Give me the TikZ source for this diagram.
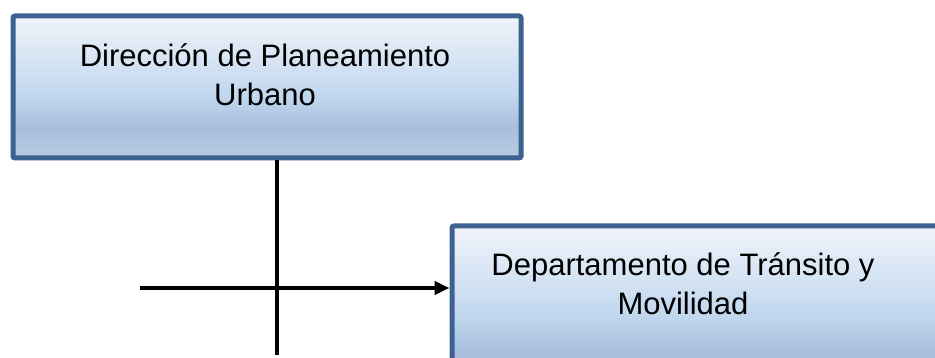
\documentclass[tikz,border=0pt]{standalone}
\usepackage{fontspec}
\setmainfont{Liberation Sans}
\usetikzlibrary{positioning,arrows.meta,calc}
\definecolor{bordeazul}{HTML}{3D6190}
\definecolor{azul1}{HTML}{F0F4FA}
\definecolor{azul2}{HTML}{BFD6EE}
\definecolor{azul3}{HTML}{A9BEDC}
\definecolor{azul4}{HTML}{B9CCE4}
\pgfdeclareverticalshading{cajaazul}{100bp}{color(0bp)=(azul4); color(25bp)=(azul4);
  color(36bp)=(azul3); color(46bp)=(azul2); color(75bp)=(azul1); color(100bp)=(azul1)}
\tikzset{
  caja/.style   = {draw=bordeazul, line width=5pt, shading=cajaazul, rounded corners=2pt,
                   inner sep=0pt, anchor=north west},
  texto/.style  = {align=center, font=\fontsize{31}{39}\selectfont, inner sep=0pt},
  linea/.style  = {line width=4pt, black},
  flecha/.style = {linea, -{Triangle[length=15pt,width=13pt]}}
}
\begin{document}
\begin{tikzpicture}[x=1pt, y=-1pt]
        \useasboundingbox (0,0) rectangle (935,358);
        \clip (0,0) rectangle (935,358);
        \node[caja, minimum width=508pt, minimum height=142pt] (dpu) at (10.5,13.5) {};
        \node[texto] (dputxt) at (265,75) {Dirección de Planeamiento\\ Urbano};
        \node[caja, minimum width=520pt, minimum height=160pt] (dtm) at (449.5,223.5) {};
        \node[texto] (dtmtxt) at (683,284) {Departamento de Tránsito y\\ Movilidad};
        \coordinate (abajo) at (277,355);
        \coordinate (izq) at (140,288);

        \draw[linea] (abajo |- dpu.south) -- (abajo);
        \draw[flecha] (izq) -- (izq -| dtm.west);
    \end{tikzpicture}
\end{document}
